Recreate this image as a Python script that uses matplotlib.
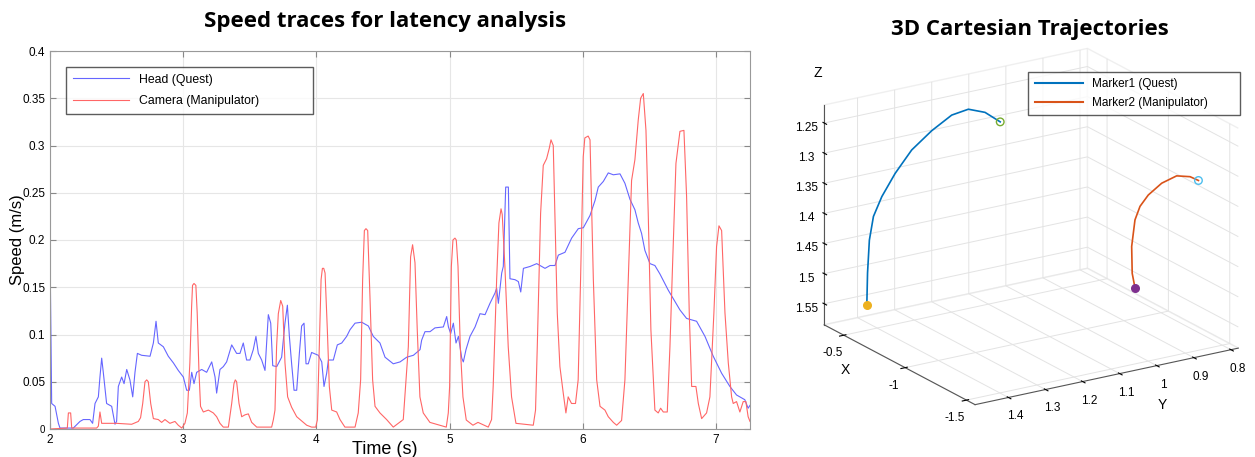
import matplotlib.pyplot as plt
from matplotlib.lines import Line2D

plt.rcParams['font.family'] = ['Liberation Sans', 'DejaVu Sans']

# speed traces
head_t = [2.0, 2.0125, 2.038, 2.063, 2.075, 2.175, 2.225, 2.25, 2.3, 2.32, 2.338, 2.363, 2.375,
          2.388, 2.4, 2.425, 2.463, 2.488, 2.5, 2.513, 2.538, 2.556, 2.576, 2.6, 2.621, 2.638,
          2.656, 2.688, 2.751, 2.776, 2.796, 2.813, 2.851, 2.888, 2.926, 2.963, 3.001, 3.026,
          3.046, 3.064, 3.081, 3.101, 3.139, 3.176, 3.214, 3.239, 3.251, 3.276, 3.301, 3.326,
          3.364, 3.401, 3.426, 3.451, 3.476, 3.501, 3.526, 3.546, 3.564, 3.589, 3.614, 3.639,
          3.657, 3.672, 3.702, 3.739, 3.764, 3.782, 3.797, 3.814, 3.832, 3.852, 3.872, 3.889,
          3.907, 3.922, 3.939, 3.964, 4.014, 4.04, 4.057, 4.077, 4.09, 4.127, 4.157, 4.19,
          4.227, 4.252, 4.29, 4.34, 4.39, 4.427, 4.477, 4.515, 4.577, 4.628, 4.678, 4.728,
          4.778, 4.79, 4.815, 4.853, 4.89, 4.953, 4.978, 4.991, 5.008, 5.028, 5.048, 5.066,
          5.091, 5.103, 5.123, 5.153, 5.191, 5.228, 5.266, 5.303, 5.341, 5.353, 5.366, 5.391,
          5.403, 5.421, 5.441, 5.453, 5.491, 5.516, 5.534, 5.554, 5.604, 5.654, 5.691, 5.716,
          5.754, 5.791, 5.816, 5.866, 5.916, 5.966, 6.004, 6.054, 6.092, 6.116, 6.154, 6.191,
          6.229, 6.279, 6.316, 6.354, 6.391, 6.416, 6.441, 6.466, 6.504, 6.541, 6.579, 6.641,
          6.691, 6.729, 6.779, 6.854, 6.917, 6.979, 7.042, 7.104, 7.154, 7.216, 7.241, 7.255]
head_v = [0.19, 0.027, 0.024, 0.006, 0.001, 0.001, 0.008, 0.01, 0.01, 0.006, 0.027, 0.034, 0.055,
          0.075, 0.06, 0.027, 0.024, 0.005, 0.008, 0.045, 0.055, 0.048, 0.063, 0.052, 0.034, 0.06,
          0.08, 0.078, 0.077, 0.091, 0.114, 0.091, 0.087, 0.077, 0.07, 0.062, 0.055, 0.041,
          0.041, 0.06, 0.048, 0.06, 0.063, 0.06, 0.071, 0.055, 0.038, 0.063, 0.066, 0.071,
          0.089, 0.08, 0.08, 0.091, 0.073, 0.073, 0.084, 0.098, 0.08, 0.073, 0.062, 0.121,
          0.112, 0.067, 0.066, 0.076, 0.112, 0.131, 0.098, 0.069, 0.041, 0.041, 0.08, 0.109,
          0.112, 0.069, 0.069, 0.081, 0.078, 0.071, 0.045, 0.059, 0.073, 0.073, 0.089, 0.091,
          0.098, 0.105, 0.112, 0.113, 0.109, 0.098, 0.091, 0.076, 0.069, 0.071, 0.076, 0.078,
          0.084, 0.094, 0.103, 0.103, 0.107, 0.108, 0.119, 0.108, 0.101, 0.112, 0.091, 0.098,
          0.075, 0.071, 0.084, 0.098, 0.108, 0.122, 0.121, 0.133, 0.144, 0.149, 0.133, 0.165,
          0.172, 0.256, 0.256, 0.159, 0.158, 0.156, 0.145, 0.17, 0.172, 0.175, 0.172, 0.17,
          0.173, 0.173, 0.184, 0.187, 0.202, 0.212, 0.213, 0.226, 0.242, 0.256, 0.262, 0.271,
          0.269, 0.27, 0.26, 0.243, 0.232, 0.218, 0.207, 0.189, 0.175, 0.173, 0.164, 0.147,
          0.135, 0.126, 0.117, 0.114, 0.098, 0.077, 0.059, 0.045, 0.036, 0.031, 0.022, 0.025]

cam_t = [2.0, 2.13, 2.138, 2.155, 2.163, 2.35, 2.363, 2.375, 2.388, 2.5, 2.613, 2.663, 2.68,
         2.696, 2.713, 2.726, 2.738, 2.756, 2.776, 2.813, 2.838, 2.863, 2.9, 2.938, 2.963,
         2.989, 3.013, 3.031, 3.05, 3.063, 3.07, 3.081, 3.095, 3.105, 3.118, 3.13, 3.151,
         3.189, 3.226, 3.251, 3.276, 3.301, 3.339, 3.364, 3.381, 3.391, 3.401, 3.419, 3.439,
         3.464, 3.489, 3.514, 3.552, 3.664, 3.677, 3.689, 3.701, 3.714, 3.732, 3.747, 3.764,
         3.784, 3.814, 3.852, 3.927, 3.964, 3.995, 4.007, 4.022, 4.035, 4.045, 4.055, 4.065,
         4.082, 4.097, 4.115, 4.152, 4.177, 4.214, 4.29, 4.314, 4.332, 4.347, 4.36, 4.372,
         4.385, 4.402, 4.422, 4.44, 4.477, 4.527, 4.577, 4.652, 4.69, 4.707, 4.722, 4.74,
         4.757, 4.777, 4.802, 4.852, 4.975, 4.99, 5.0, 5.013, 5.025, 5.04, 5.05, 5.063, 5.08,
         5.1, 5.125, 5.175, 5.213, 5.29, 5.315, 5.327, 5.353, 5.37, 5.386, 5.395, 5.415, 5.44,
         5.465, 5.498, 5.628, 5.645, 5.658, 5.683, 5.703, 5.728, 5.748, 5.761, 5.778, 5.79,
         5.808, 5.828, 5.853, 5.873, 5.89, 5.915, 5.945, 5.965, 5.983, 6.003, 6.015, 6.04,
         6.054, 6.079, 6.104, 6.129, 6.166, 6.191, 6.229, 6.254, 6.291, 6.316, 6.341, 6.366,
         6.391, 6.416, 6.434, 6.454, 6.474, 6.491, 6.511, 6.541, 6.566, 6.584, 6.604, 6.634,
         6.654, 6.674, 6.699, 6.729, 6.759, 6.779, 6.799, 6.817, 6.849, 6.867, 6.892, 6.929,
         6.954, 6.984, 7.004, 7.022, 7.042, 7.067, 7.092, 7.117, 7.129, 7.154, 7.179, 7.204,
         7.224, 7.241, 7.255]
cam_v = [0.0, 0.001, 0.017, 0.017, 0.001, 0.001, 0.003, 0.018, 0.006, 0.006, 0.005, 0.008, 0.012,
         0.027, 0.05, 0.052, 0.05, 0.027, 0.011, 0.01, 0.007, 0.01, 0.006, 0.008, 0.004,
         0.001, 0.006, 0.017, 0.07, 0.129, 0.152, 0.154, 0.152, 0.123, 0.062, 0.024, 0.018,
         0.02, 0.017, 0.013, 0.006, 0.002, 0.002, 0.027, 0.048, 0.052, 0.05, 0.027, 0.013,
         0.015, 0.016, 0.007, 0.002, 0.002, 0.01, 0.02, 0.087, 0.122, 0.136, 0.13, 0.07,
         0.034, 0.023, 0.013, 0.004, 0.002, 0.002, 0.0095, 0.087, 0.158, 0.17, 0.17, 0.165,
         0.105, 0.045, 0.02, 0.018, 0.01, 0.002, 0.002, 0.017, 0.052, 0.158, 0.21, 0.212,
         0.21, 0.14, 0.052, 0.024, 0.017, 0.01, 0.002, 0.01, 0.087, 0.182, 0.195, 0.176,
         0.105, 0.034, 0.017, 0.007, 0.002, 0.017, 0.045, 0.172, 0.2, 0.202, 0.2, 0.172, 0.087,
         0.034, 0.0095, 0.004, 0.007, 0.002, 0.01, 0.045, 0.158, 0.218, 0.233, 0.227, 0.172, 0.087,
         0.034, 0.006, 0.004, 0.02, 0.087, 0.228, 0.279, 0.286, 0.297, 0.306, 0.3, 0.228,
         0.123, 0.066, 0.038, 0.017, 0.034, 0.027, 0.027, 0.052, 0.158, 0.288, 0.308, 0.31,
         0.306, 0.158, 0.052, 0.024, 0.02, 0.013, 0.007, 0.004, 0.009, 0.052, 0.158, 0.263,
         0.285, 0.327, 0.35, 0.355, 0.316, 0.228, 0.105, 0.02, 0.017, 0.022, 0.018, 0.018,
         0.087, 0.175, 0.281, 0.315, 0.316, 0.246, 0.123, 0.045, 0.045, 0.027, 0.011, 0.017,
         0.034, 0.123, 0.193, 0.215, 0.21, 0.123, 0.07, 0.034, 0.027, 0.029, 0.018, 0.029,
         0.029, 0.013, 0.008]

# 3D trajectories
m1_x = [-0.473, -0.494, -0.515, -0.536, -0.556, -0.577, -0.597, -0.618, -0.639, -0.660, -0.681, -0.702]
m1_y = [1.419, 1.424, 1.426, 1.422, 1.406, 1.377, 1.339, 1.292, 1.245, 1.207, 1.169, 1.135]
m1_z = [1.547, 1.491, 1.434, 1.393, 1.360, 1.323, 1.287, 1.259, 1.237, 1.230, 1.238, 1.256]
m2_x = [-0.955, -0.989, -1.024, -1.057, -1.092, -1.126, -1.160, -1.194, -1.228, -1.263]
m2_y = [0.855, 0.874, 0.887, 0.889, 0.887, 0.876, 0.851, 0.822, 0.797, 0.786]
m2_z = [1.542, 1.511, 1.461, 1.413, 1.387, 1.366, 1.346, 1.334, 1.335, 1.339]

fig = plt.figure(figsize=(12.55, 4.57), dpi=100)

# ---- left: speed traces
ax = fig.add_axes([50 / 1255, 28 / 457, 700 / 1255, 378 / 457])
ax.plot(head_t, head_v, color=(0.4, 0.4, 1.0), lw=0.8, label='Head (Quest)')
ax.plot(cam_t, cam_v, color=(1.0, 0.4, 0.4), lw=0.8, label='Camera (Manipulator)')
ax.set_xlim(2, 7.255)
ax.set_ylim(0, 0.4)
ax.set_xticks([2, 3, 4, 5, 6, 7])
yt = [0, 0.05, 0.1, 0.15, 0.2, 0.25, 0.3, 0.35, 0.4]
ax.set_yticks(yt)
ax.set_yticklabels(['0', '0.05', '0.1', '0.15', '0.2', '0.25', '0.3', '0.35', '0.4'])
ax.grid(True, color='#e6e6e6', lw=0.8)
ax.tick_params(direction='in', top=True, right=True, labelsize=8.5, length=4, color='#888888')
ax.get_yticklabels()[0].set_fontsize(7)
for s in ax.spines.values():
    s.set_color('#999999')
fig.text(385 / 1255, 1 - 450 / 457, 'Time (s)', ha='center', va='center', fontsize=13)
fig.text(18 / 1255, 1 - 240 / 457, 'Speed (m/s)', ha='center', va='center', fontsize=12, rotation=90)
leg = ax.legend(loc='upper left', bbox_to_anchor=(66 / 1255, 1 - 67 / 457), bbox_transform=fig.transFigure,
                fontsize=8.8, frameon=True, fancybox=False, borderaxespad=0, handlelength=4.6,
                handletextpad=0.8, borderpad=0.55, labelspacing=0.75)
leg.get_frame().set_edgecolor('#333333')
leg.get_frame().set_linewidth(1.0)
for t in leg.get_texts():
    t.set_text(t.get_text() + ' ' * 14)
fig.text(385 / 1255, 1 - 22 / 457, 'Speed traces for latency analysis', ha='center', va='center',
         fontsize=16, fontweight='bold', family='Open Sans')

# ---- right: 3D trajectories
ax3 = fig.add_axes([0.6064, -0.0503, 0.42, 1.08], projection='3d')
ax3.set_proj_type('ortho')
ax3.plot(m1_x, m1_y, m1_z, color='#0072BD', lw=1.2)
ax3.plot(m2_x, m2_y, m2_z, color='#D95319', lw=1.2)
ax3.scatter([m1_x[0]], [m1_y[0]], [m1_z[0]], color='#EDB120', s=30, depthshade=False)
ax3.scatter([m1_x[-1]], [m1_y[-1]], [m1_z[-1]], facecolors='none', edgecolors='#77AC30', s=30, depthshade=False)
ax3.scatter([m2_x[0]], [m2_y[0]], [m2_z[0]], color='#7E2F8E', s=30, depthshade=False)
ax3.scatter([m2_x[-1]], [m2_y[-1]], [m2_z[-1]], facecolors='none', edgecolors='#4DBEEE', s=30, depthshade=False)
ax3.set_xlim(-0.34, -1.57)
ax3.set_ylim(1.49, 0.78)
ax3.set_zlim(1.585, 1.22)
ax3.set_xticks([-0.5, -1, -1.5])
ax3.set_xticklabels(['-0.5', '-1', '-1.5'])
ax3.set_yticks([1.4, 1.3, 1.2, 1.1, 1.0, 0.9, 0.8])
ax3.set_yticklabels(['1.4', '1.3', '1.2', '1.1', '1', '0.9', '0.8'])
ax3.set_zticks([1.25, 1.3, 1.35, 1.4, 1.45, 1.5, 1.55])
ax3.set_zticklabels(['1.25', '1.3', '1.35', '1.4', '1.45', '1.5', '1.55'])
ax3.view_init(elev=19.7, azim=-32.5)
ax3.set_box_aspect((843, 937, 701), zoom=0.945)
ax3.zaxis.set_ticks_position('upper')
for a in (ax3.xaxis, ax3.yaxis, ax3.zaxis):
    a.pane.set_facecolor('white')
    a.pane.set_edgecolor('#e0e0e0')
    a.line.set_color('#555555')
    a._axinfo['grid'].update(color='#e3e3e3', linewidth=0.7)
ax3.tick_params(labelsize=8.5, pad=0)
fig.text(818 / 1255, 1 - 73 / 457, 'Z', ha='center', va='center', fontsize=10)
fig.text(845 / 1255, 1 - 370 / 457, 'X', ha='center', va='center', fontsize=10)
fig.text(1162 / 1255, 1 - 405 / 457, 'Y', ha='center', va='center', fontsize=10)
leg3 = ax3.legend(handles=[Line2D([], [], color='#0072BD', lw=1.5), Line2D([], [], color='#D95319', lw=1.5)],
                  labels=['Marker1 (Quest)', 'Marker2 (Manipulator)' + ' ' * 8],
                  loc='upper right', bbox_to_anchor=(1240 / 1255, 1 - 72 / 457),
                  bbox_transform=fig.transFigure, fontsize=8.5, fancybox=False, borderaxespad=0,
                  handlelength=4.1, handletextpad=0.7, borderpad=0.55, labelspacing=0.55)
leg3.get_frame().set_edgecolor('#333333')
fig.text(1030 / 1255, 1 - 30 / 457, '3D Cartesian Trajectories', ha='center', va='center',
         fontsize=16, fontweight='bold', family='Open Sans')

fig.savefig('out.png', dpi=100)
